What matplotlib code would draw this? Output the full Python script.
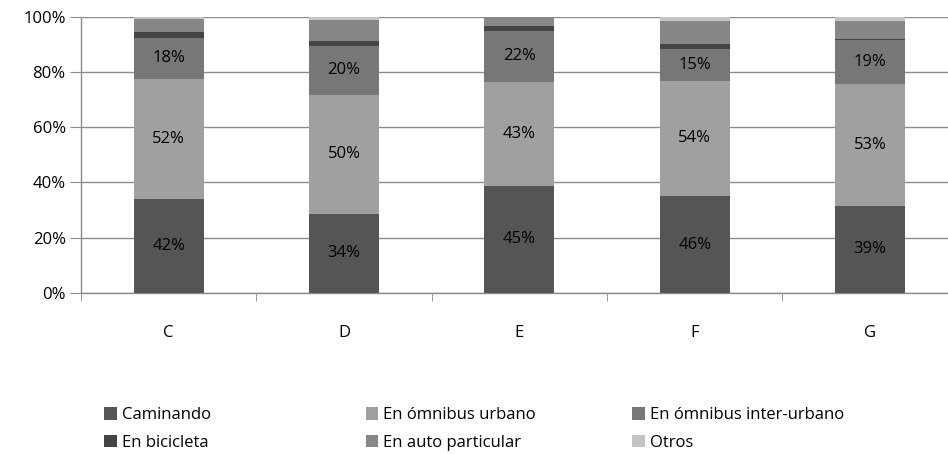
import matplotlib
matplotlib.use("Agg")
import matplotlib.pyplot as plt
import numpy as np
from matplotlib.patches import Patch

plt.rcParams['font.family'] = ['Open Sans', 'DejaVu Sans']

categories = ["C", "D", "E", "F", "G"]
series_names = ["Caminando", "En ómnibus urbano", "En ómnibus inter-urbano",
                "En bicicleta", "En auto particular", "Otros"]

# bar segment heights (percent) as drawn
caminando = [34.1, 28.7, 38.8, 35.1, 31.6]
omnibus_urbano = [43.4, 43.1, 37.6, 41.7, 44.1]
omnibus_inter = [14.8, 17.7, 18.6, 11.6, 15.7]
bicicleta = [2.0, 1.8, 1.5, 1.9, 0.6]
auto_particular = [5.0, 7.6, 3.5, 8.0, 6.3]
otros = [0.7, 1.1, 0.0, 1.7, 1.7]

# data labels printed on the chart
label_caminando = ["42%", "34%", "45%", "46%", "39%"]
label_urbano = ["52%", "50%", "43%", "54%", "53%"]
label_inter = ["18%", "20%", "22%", "15%", "19%"]

colors = ["#555555", "#a0a0a0", "#777777", "#444444", "#878787", "#c4c4c4"]
series = [caminando, omnibus_urbano, omnibus_inter, bicicleta, auto_particular, otros]

fig = plt.figure(figsize=(9.48, 4.54), dpi=100)
ax = fig.add_axes([0.0854, 0.3546, 0.925, 0.6086])

x = np.arange(len(categories))
bottom = np.zeros(len(categories))
mids = []
for vals, col in zip(series, colors):
    vals = np.array(vals)
    ax.bar(x, vals, width=0.4, bottom=bottom, color=col, edgecolor="none", zorder=3)
    mids.append(bottom + vals / 2)
    bottom = bottom + vals

for labels, m in zip([label_caminando, label_urbano, label_inter], mids[:3]):
    for xi, yi, lab in zip(x, m, labels):
        ax.text(xi, yi, lab, ha="center", va="center", fontsize=12, color="black", zorder=4)

ax.set_xlim(-0.5, len(categories) - 0.5)
ax.set_ylim(0, 100)
ax.set_yticks(np.arange(0, 101, 20))
ax.set_yticklabels([f"{v}%" for v in range(0, 101, 20)], fontsize=12)
ax.yaxis.grid(True, color="#8c8c8c", linewidth=1, zorder=0)
ax.set_axisbelow(True)

ax.set_xticks(x)
ax.set_xticklabels(categories, fontsize=12)
ax.set_xticks(np.arange(-0.5, len(categories), 1), minor=True)
ax.tick_params(axis="x", which="major", length=0, pad=23)
ax.tick_params(axis="x", which="minor", length=6, color="#8c8c8c", direction="out")
ax.tick_params(axis="y", length=8, color="#8c8c8c", direction="out", pad=3)

for s in ["top", "right"]:
    ax.spines[s].set_visible(False)
for s in ["left", "bottom"]:
    ax.spines[s].set_color("#8c8c8c")
    ax.spines[s].set_linewidth(1)

handles = [Patch(facecolor=c, edgecolor="none") for c in colors]
col_x = [0.110, 0.386, 0.667]
for i, cx in enumerate(col_x):
    idx = [i, i + 3]
    fig.legend([handles[j] for j in idx], [series_names[j] for j in idx],
               loc="upper left", bbox_to_anchor=(cx, 0.103), frameon=False,
               fontsize=12, handlelength=0.75, handleheight=0.75, handletextpad=0.3,
               labelspacing=0.68, borderaxespad=0, borderpad=0)

fig.savefig("out.png", dpi=100)
